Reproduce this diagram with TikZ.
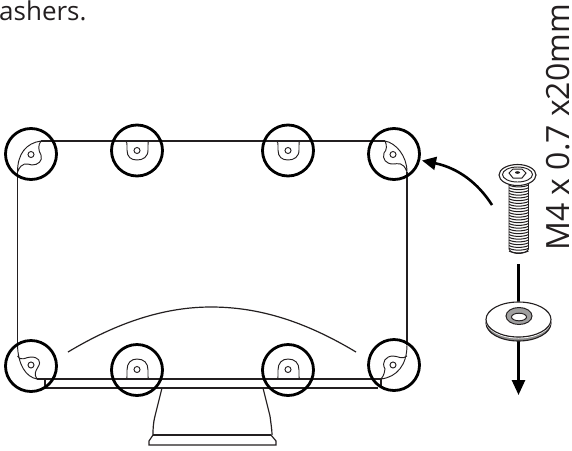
\documentclass[tikz,border=0pt]{standalone}
\usepackage{fontspec}
\setmainfont{Open Sans}
\usetikzlibrary{arrows.meta}
\definecolor{ink}{HTML}{231F20}
\tikzset{
  thin line/.style={draw=ink,line width=1.2pt},
  fine line/.style={draw=ink,line width=0.95pt},
  callout/.style={draw=black,line width=2.8pt},
  pointer/.style={draw=black,line width=2.6pt},
}
\begin{document}
\begin{tikzpicture}[x=1pt,y=-1pt]
\useasboundingbox (0,0) rectangle (572,450);
% text
\node[anchor=base west,inner sep=0,font=\fontsize{26}{30}\selectfont,text=ink] (top) at (-1,20) {ashers.};
\node[anchor=base west,inner sep=0,rotate=90,font=\fontsize{32}{36}\selectfont,text=ink] (size) at (569,251) {M4 x 0.7 x20mm};
% display outline
\draw[thin line] (41,141) -- (385,141);
\draw[thin line] (17.5,172) -- (17.5,345);
\draw[thin line] (407,172) -- (407,345);
\draw[thin line] (37,379) -- (382,379);
\draw[thin line] (45,388) -- (378,388);
\draw[thin line] (45,379) -- (45,388);
\draw[thin line] (381,379) -- (381,388);
% corners
\draw[fine line] (41,141) .. controls (26,143) and (17.5,154) .. (17.5,172)
  .. controls (22,161) and (27,164) .. (32,165)
  .. controls (38,165) and (43,161) .. (41,155)
  .. controls (38,150) and (38,145) .. (41,141);
\draw[fine line] (385,141) .. controls (396,143) and (407,156) .. (407,172)
  .. controls (403,161) and (398,164) .. (393,164)
  .. controls (386,164) and (382,159) .. (384,153)
  .. controls (387,150) and (387,145) .. (385,141);
\draw[fine line] (17.5,345) .. controls (18,365) and (26,377) .. (37,379)
  .. controls (34,374) and (35,372) .. (38,367)
  .. controls (42,361) and (38,357) .. (31,357)
  .. controls (25,357) and (22,362) .. (17.5,356);
\draw[fine line] (407,345) .. controls (407,365) and (397,377) .. (381,379)
  .. controls (385,374) and (384,372) .. (385,369)
  .. controls (381,362) and (386,356) .. (393,356)
  .. controls (398,356) and (402,360) .. (407,356);
% keyholes top
\foreach \x in {137,288}{
  \draw[fine line] (\x-13,141) .. controls (\x-10,141) and (\x-10,142) .. (\x-10,145)
    -- (\x-10,150) .. controls (\x-10,157) and (\x-6,160) .. (\x,160)
    .. controls (\x+6,160) and (\x+11,157) .. (\x+11,150) -- (\x+11,145)
    .. controls (\x+11,142) and (\x+11,141) .. (\x+13,141);
  \draw[fine line] (\x,150.5) circle (3);
  \draw[fine line] (\x-11,379) .. controls (\x-10,379) and (\x-10,378) .. (\x-10,374)
    -- (\x-10,370) .. controls (\x-10,363) and (\x-6,359) .. (\x,359)
    .. controls (\x+7,359) and (\x+11,363) .. (\x+11,370) -- (\x+11,374)
    .. controls (\x+11,378) and (\x+11,379) .. (\x+12,379);
  \draw[fine line] (\x,369.5) circle (3);
}
\draw[fine line] (31,154.5) circle (3);
\draw[fine line] (393,154.5) circle (3);
\draw[fine line] (31,365) circle (3);
\draw[fine line] (393,365) circle (3);
% arc
\draw[thin line] (68,352) .. controls (118,322) and (165,307) .. (211,307)
  .. controls (260,307) and (306,322) .. (356,352);
% stand
\draw[thin line] (162,388) -- (155,416) .. controls (153,424) and (153,430) .. (153,435);
\draw[thin line] (153,435) -- (271,435);
\draw[thin line] (153,435) -- (149,441) -- (149,445) -- (276,445) -- (276,441) -- (271,435);
\draw[thin line] (263,388) -- (270,416) .. controls (271,424) and (272,430) .. (272,435);
% callout circles
\foreach \x/\y in {31/154,137/150.5,288/150.5,394/154,31/366,137/370,288/370,394/365}{
  \draw[callout] (\x,\y) circle (25.5);
}
% screw
\foreach \i in {0,...,24}{
  \draw[draw=ink,line width=1pt] (509,{185+\i*2.75}) .. controls (513,{187.5+\i*2.75}) and (524,{187.5+\i*2.75}) .. (528.5,{185+\i*2.75});
}
\draw[fine line] (509,184) -- (509,249) .. controls (511,255) and (526,255) .. (528.5,249) -- (528.5,184);
\draw[draw=ink,fill=white,line width=1.1pt] (517.5,175) ellipse (18.5 and 10.5);
\draw[fine line] (517.5,174.5) ellipse (15 and 7.5);
\draw[draw=ink,line width=1pt] (509,173) -- (513,169) -- (522,169) -- (526,173) -- (522,178) -- (513,178) -- cycle;
\fill[ink] (517.5,172.5) ellipse (2.5 and 1.3);
% washer and arrow
\coordinate (lineTop) at (518.5,264);
\coordinate (lineEnd) at (518.5,395);
\draw[pointer,-{Triangle[length=15pt,width=13pt]}] (lineTop) -- (lineEnd);
\draw[draw=ink,line width=1.1pt,fill=gray!90] (518.5,323) ellipse (32.5 and 18);
\draw[draw=white,line width=1pt] (518.5,320) ellipse (32.5 and 18);
\draw[draw=ink,line width=1.1pt,fill=white] (518.5,319.5) ellipse (32.5 and 17.5);
\draw[draw=ink,line width=1pt,fill=gray!75] (519,316) ellipse (13 and 8.5);
\draw[draw=ink,line width=1pt,fill=white] (519,317) ellipse (7.5 and 3.8);
% curved arrow
\coordinate (curveStart) at (492,205);
\coordinate (curveEnd) at (422,160.5);
\draw[pointer,-{Triangle[length=14pt,width=13pt]}] (curveStart) .. controls (478,183) and (458,168) .. (curveEnd);
\end{tikzpicture}
\end{document}
